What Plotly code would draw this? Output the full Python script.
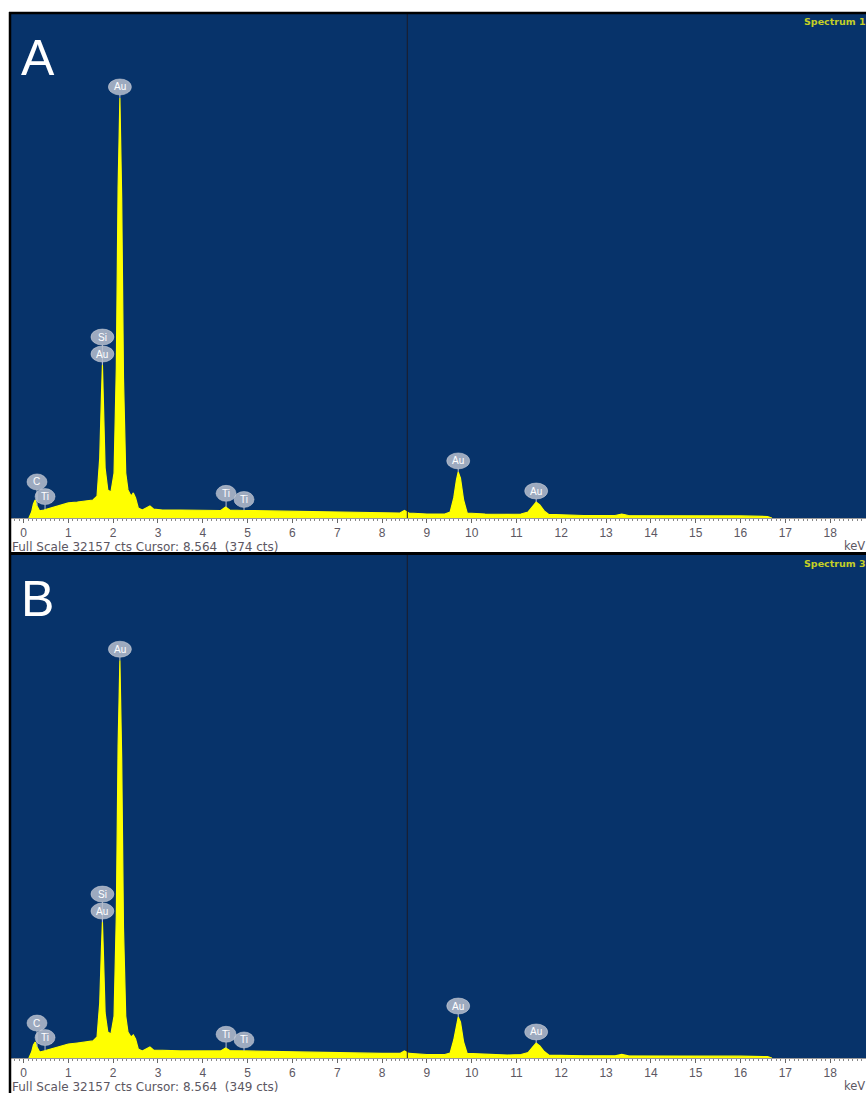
import plotly.graph_objects as go
import numpy as np

# Energy axis (keV) shared by both spectra
energy_kev = [0.12, 0.18, 0.22, 0.26, 0.30, 0.36, 0.45, 0.6, 0.8, 1.0, 1.2, 1.4, 1.55, 1.64,
              1.70, 1.74, 1.76, 1.78, 1.82, 1.88, 1.95, 2.02, 2.07, 2.11, 2.15, 2.19, 2.23,
              2.28, 2.33, 2.40, 2.45, 2.50, 2.56, 2.65, 2.75, 2.82, 2.90, 3.1, 3.5, 4.0, 4.4,
              4.51, 4.6, 4.93, 5.5, 6.0, 6.5, 7.0, 7.5, 8.0, 8.4, 8.5, 8.6, 9.0, 9.4, 9.52,
              9.60, 9.66, 9.70, 9.75, 9.82, 9.90, 10.3, 10.8, 11.1, 11.26, 11.36, 11.44,
              11.52, 11.62, 11.72, 12.0, 12.5, 13.2, 13.35, 13.5, 14.0, 15.0, 16.0, 16.6, 16.7]

# Counts, spectrum 1 (panel A)
counts_a = [0, 380, 890, 1150, 770, 450, 510, 640, 830, 960, 1020, 1090, 1150, 1400,
            3830, 7980, 9760, 7660, 3190, 1790, 1660, 2870, 9570, 21050, 26800, 20420, 8930,
            2870, 1790, 1400, 1600, 1280, 640, 510, 640, 770, 570, 510, 510, 480, 480,
            700, 510, 480, 450, 415, 385, 385, 350, 320, 320, 480, 320, 255, 255, 385,
            1280, 2420, 2940, 2550, 1150, 320, 255, 225, 255, 385, 770, 1020, 830, 450, 225,
            190, 160, 160, 255, 160, 160, 130, 130, 95, 0]

# Counts, spectrum 3 (panel B)
counts_b = [0, 380, 830, 1020, 700, 380, 450, 575, 770, 895, 960, 1020, 1090, 1340,
            3520, 7160, 8690, 6900, 2880, 1660, 1530, 2680, 9070, 19940, 25430, 19170, 8310,
            2680, 1660, 1340, 1470, 1210, 575, 450, 575, 700, 510, 480, 450, 450, 450,
            640, 480, 450, 415, 385, 350, 350, 320, 290, 290, 450, 290, 225, 225, 320,
            1150, 2170, 2620, 2300, 1020, 290, 225, 190, 225, 350, 700, 960, 770, 415, 190,
            160, 140, 140, 225, 140, 140, 115, 115, 90, 0]

# Peak identifications: element, energy (keV), stacking level above the peak
peak_labels = [("Au", 2.15, 0), ("Au", 1.76, 0), ("Si", 1.76, 1), ("C", 0.30, 0),
               ("Ti", 0.48, 0), ("Ti", 4.52, 0), ("Ti", 4.92, 0), ("Au", 9.70, 0),
               ("Au", 11.44, 0)]

panels = [
    dict(letter="A", counts=counts_a, name="Spectrum 1", cursor_cts=374),
    dict(letter="B", counts=counts_b, name="Spectrum 3", cursor_cts=349),
]
full_scale = 32157
cursor_kev = 8.564
tick_kev = list(range(0, 19))

W, H = 866, 1093
BLUE = "#07336a"
YELLOW = "#ffff00"
TEXT_GREY = "#5c5762"


def px(x):
    return x / W


def py(y):
    return 1 - y / H


# blue plot regions (top, bottom) in page pixels
regions = [(14, 518), (555, 1058)]

fig = go.Figure()
shapes = []
annotations = []

for i, (panel, (top, bot)) in enumerate(zip(panels, regions)):
    n = "" if i == 0 else str(i + 1)
    xref, yref = "x" + n, "y" + n
    fig.add_trace(go.Scatter(
        x=energy_kev, y=panel["counts"], mode="lines",
        line=dict(color=YELLOW, width=1.2), fill="tozeroy", fillcolor=YELLOW,
        hoverinfo="skip", showlegend=False, xaxis=xref, yaxis=yref))

    fig.layout["xaxis" + n] = dict(
        domain=[px(11), 1], range=[-0.28, 18.80], anchor=yref,
        tickmode="array", tickvals=tick_kev, ticktext=[str(t) for t in tick_kev],
        ticks="outside", ticklen=4, tickwidth=1, tickcolor="#666666",
        minor=dict(dtick=0.1, ticks="outside", ticklen=2, tickcolor="#888888"),
        showline=True, linecolor="#9a9a9a", linewidth=1,
        showgrid=False, zeroline=False, fixedrange=True,
        tickfont=dict(family="Liberation Sans, Arial", size=12, color=TEXT_GREY))
    fig.layout["yaxis" + n] = dict(
        domain=[py(bot), py(top)], range=[0, full_scale], anchor=xref,
        visible=False, showgrid=False, zeroline=False, fixedrange=True)

    # cursor marker
    shapes.append(dict(type="line", xref=xref, yref=yref, x0=cursor_kev, x1=cursor_kev,
                       y0=0, y1=full_scale, line=dict(color="#1c1c28", width=1)))

    # peak label bubbles
    for elem, e, level in peak_labels:
        c = float(np.interp(e, energy_kev, panel["counts"]))
        w = 11.5 if elem in ("Au", "Si") else 10
        h = 8
        cy = 11 + level * 17
        if elem == "C":
            cy = 24
        elif elem == "Ti":
            cy = 14 if e < 4.7 else 11
            if e < 1:
                cy = 13
        shapes.append(dict(type="line", xref=xref, yref=yref, xsizemode="pixel",
                           ysizemode="pixel", xanchor=e, yanchor=c, x0=0, x1=0,
                           y0=0, y1=cy - h, line=dict(color="#b8bfcc", width=1)))
        shapes.append(dict(type="circle", xref=xref, yref=yref, xsizemode="pixel",
                           ysizemode="pixel", xanchor=e, yanchor=c,
                           x0=-w, x1=w, y0=cy - h, y1=cy + h,
                           fillcolor="rgba(190,197,210,0.82)",
                           line=dict(color="rgba(210,214,222,0.5)", width=1)))
        annotations.append(dict(x=e, y=c, xref=xref, yref=yref, text=elem,
                                showarrow=False, yshift=cy, xanchor="center",
                                yanchor="middle",
                                font=dict(family="Liberation Sans, Arial", size=10,
                                          color="white")))

    # panel letter
    annotations.append(dict(x=px(37.5), y=py(top + 44), xref="paper", yref="paper",
                            text=panel["letter"], showarrow=False, xanchor="center",
                            yanchor="middle",
                            font=dict(family="Liberation Sans, Arial", size=50,
                                      color="white")))
    # spectrum name
    annotations.append(dict(x=px(802), y=py(top + 8), xref="paper", yref="paper",
                            text="<b>" + panel["name"] + "</b>", showarrow=False,
                            xanchor="left", yanchor="middle",
                            font=dict(family="DejaVu Sans", size=9.5,
                                      color="#c4cf26")))
    # status line below the ruler
    annotations.append(dict(x=px(10), y=py(bot + 29), xref="paper", yref="paper",
                            text="Full Scale %d cts Cursor: %.3f  (%d cts)"
                                 % (full_scale, cursor_kev, panel["cursor_cts"]),
                            showarrow=False, xanchor="left", yanchor="middle",
                            font=dict(family="DejaVu Sans", size=12,
                                      color=TEXT_GREY)))
    annotations.append(dict(x=px(842), y=py(bot + 28), xref="paper", yref="paper",
                            text="keV", showarrow=False, xanchor="left",
                            yanchor="middle",
                            font=dict(family="DejaVu Sans", size=11.5,
                                      color=TEXT_GREY)))

# black frame lines
shapes.append(dict(type="line", xref="paper", yref="paper", x0=px(10), x1=px(10),
                   y0=0, y1=py(12), line=dict(color="black", width=2.5)))
shapes.append(dict(type="line", xref="paper", yref="paper", x0=px(9), x1=1,
                   y0=py(13), y1=py(13), line=dict(color="black", width=2.5)))
shapes.append(dict(type="line", xref="paper", yref="paper", x0=px(9), x1=1,
                   y0=py(553.5), y1=py(553.5), line=dict(color="black", width=3)))

fig.update_layout(
    width=W, height=H, margin=dict(l=0, r=0, t=0, b=0),
    paper_bgcolor="white", plot_bgcolor=BLUE,
    shapes=shapes, annotations=annotations, showlegend=False)

fig.write_html("out.html")
